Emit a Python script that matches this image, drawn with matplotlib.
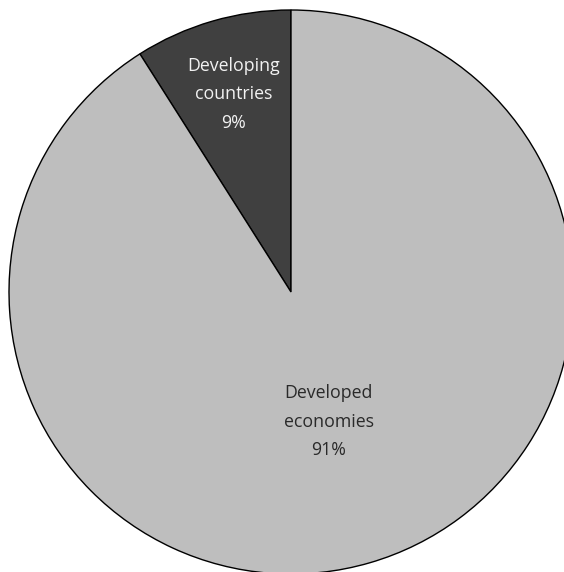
import matplotlib.pyplot as plt
import numpy as np

# data
categories = ["Developing\ncountries", "Developed\neconomies"]
shares = [9, 91]
colors = ["#404040", "#bebebe"]
text_colors = ["#f2f2f2", "#2a2a2a"]
label_radius = [0.73, 0.48]

plt.rcParams['font.family'] = ['Open Sans', 'DejaVu Sans']

fig = plt.figure(figsize=(5.64, 5.72), dpi=100)
ax = fig.add_axes([0, 0, 1, 1])

wedges, _ = ax.pie(shares, colors=colors, startangle=90, counterclock=True,
                   radius=1, center=(0, 0),
                   wedgeprops=dict(edgecolor="black", linewidth=1.0))

# circle is clipped on the right/bottom in the original
px = 282.0
ax.set_xlim(-291 / px, (564 - 291) / px)
ax.set_ylim(-(572 - 292) / px, 292 / px)
ax.set_aspect('auto')
ax.axis('off')

for w, name, pct, tc, r in zip(wedges, categories, shares, text_colors, label_radius):
    ang = np.deg2rad((w.theta1 + w.theta2) / 2)
    ax.text(r * np.cos(ang), r * np.sin(ang), f"{name}\n{pct}%",
            ha="center", va="center", color=tc, fontsize=12.8,
            linespacing=1.75)

fig.savefig("out.png", dpi=100)
